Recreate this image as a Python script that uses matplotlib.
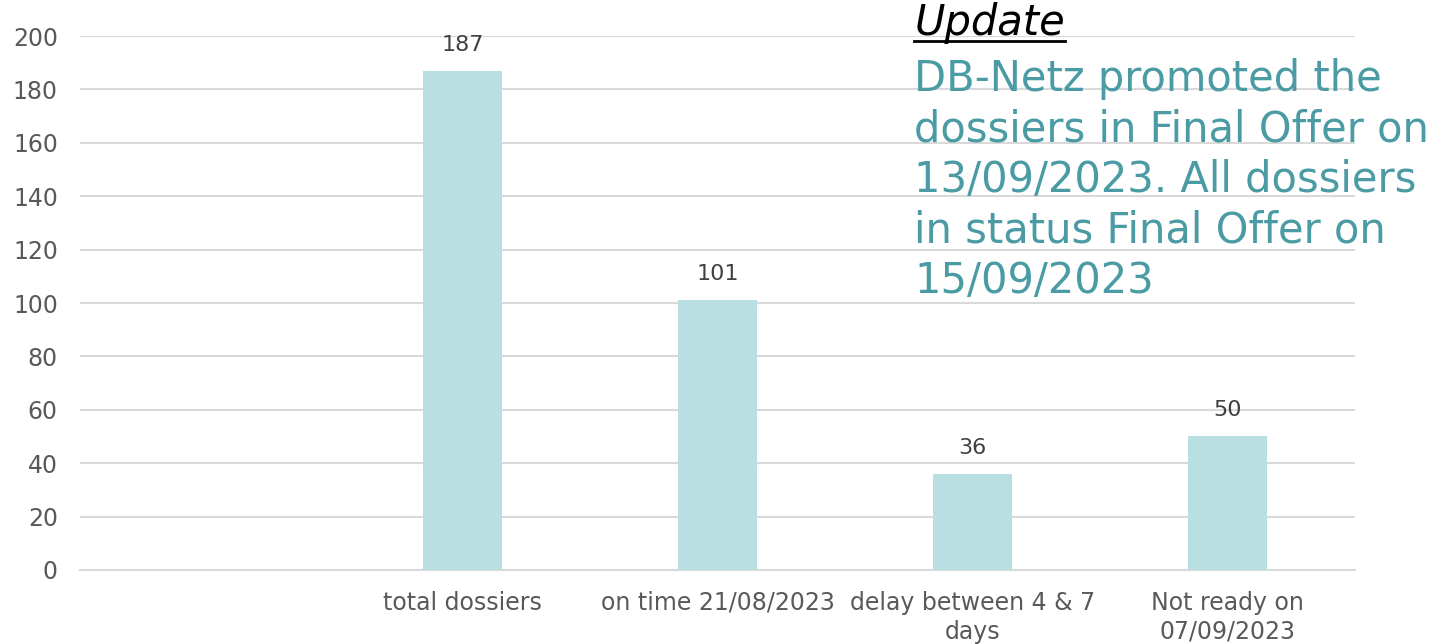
import matplotlib.pyplot as plt
from matplotlib.lines import Line2D

# data
categories = ["", "total dossiers", "on time 21/08/2023", "delay between 4 & 7\ndays", "Not ready on\n07/09/2023"]
values = [0, 187, 101, 36, 50]
show_label = [False, True, True, True, True]

plt.rcParams['font.family'] = ['DejaVu Sans']

fig = plt.figure(figsize=(14.56, 6.44), dpi=100)
ax = fig.add_axes([0.055, 0.115, 0.8756, 0.829])

x = range(len(categories))
bars = ax.bar(x, values, width=0.31, color="#B9DFE2", zorder=3)
for b, v, s in zip(bars, values, show_label):
    if s:
        ax.text(b.get_x() + b.get_width() / 2, v + 6, str(v), ha="center", va="bottom",
                fontsize=16, color="#404040")

ax.set_xlim(-0.5, len(categories) - 0.5)
ax.set_ylim(0, 200)
ax.set_yticks(range(0, 201, 20))
ax.set_xticks(list(x))
ax.set_xticklabels(categories, fontsize=17, color="#595959", linespacing=1.25)
ax.tick_params(axis="y", labelsize=17, labelcolor="#595959", length=0, pad=16)
ax.tick_params(axis="x", length=0, pad=15)
ax.grid(axis="y", color="#D9D9D9", linewidth=1.5, zorder=0)
for sp in ["top", "right", "left"]:
    ax.spines[sp].set_visible(False)
ax.spines["bottom"].set_color("#D9D9D9")
ax.spines["bottom"].set_linewidth(1.5)

# note text
t = fig.text(0.628, 0.946, "Update", fontsize=30, style="italic", color="black",
             ha="left", va="baseline")
# baseline of multi-line text = baseline of last line
fig.text(0.628, 0.545, "DB-Netz promoted the\ndossiers in Final Offer on\n13/09/2023. All dossiers\nin status Final Offer on\n15/09/2023",
         fontsize=30, color="#4A9BA3", ha="left", va="baseline", linespacing=1.26)

# underline for "Update"
fig.canvas.draw()
bb = t.get_window_extent().transformed(fig.transFigure.inverted())
fig.add_artist(Line2D([bb.x0, bb.x1], [0.946 - 0.009, 0.946 - 0.009], color="black",
                      linewidth=2, transform=fig.transFigure))

fig.savefig("out.png", dpi=100)
